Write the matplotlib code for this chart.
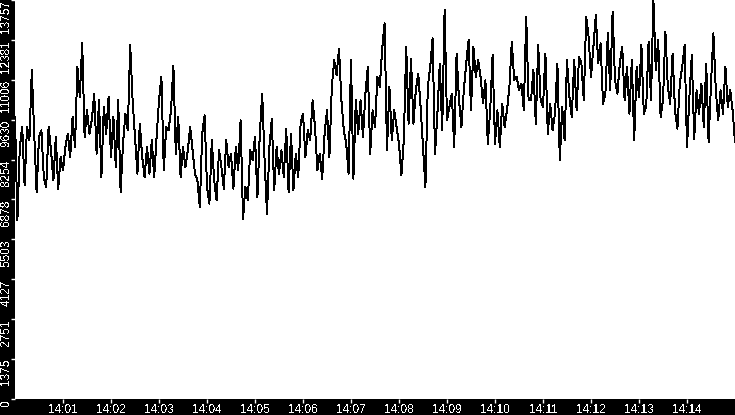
#曲线图复现
import pandas as pd
import matplotlib
matplotlib.use('Agg')
import matplotlib.pyplot as plt

# 采样: 14:00 开始, 每3秒一个点
start_time = '2024-01-01 14:00:00'
step = '3s'

# 各段读数 (每段约1分17秒)
part1 = [9725, 6154, 8688, 9379, 7363, 9379, 8919, 11338, 9149, 7133, 9034, 9264, 7651, 7306, 9379,
         8573, 7536, 9034, 7248, 8343, 7882, 8688, 9149, 8343, 9725, 8688, 11453, 10416, 12260, 9034,
         9955, 9149, 9610, 10531, 8458, 10301, 7651, 10071, 9149, 10416, 8343, 9725, 7997]
part2 = [10301, 7133, 8803, 9840, 9264, 12202, 10301, 9034, 7767, 9495, 8343, 7651, 8688, 7767, 8919,
         7651, 9034, 10301, 11107, 7882, 9379, 9264, 9955, 11476, 8458, 9725, 7651, 8688, 7997, 8573,
         9379, 8573, 7767, 7536, 6615, 9149, 9783, 7306, 6730, 8919, 7536, 6845, 8573]
part3 = [7997, 7248, 8919, 7997, 8458, 7248, 8688, 7882, 9610, 6212, 7306, 6845, 8573, 8227, 9034,
         6960, 9149, 10531, 8227, 6384, 8688, 9667, 7190, 8688, 7767, 8573, 7651, 9322, 7133, 9149,
         7190, 8458, 7651, 9495, 9840, 8343, 9264, 8919, 10301, 9379, 7882, 8458, 7594]
part4 = [9149, 9955, 8343, 10762, 11683, 11165, 12087, 10301, 9264, 8803, 7767, 11683, 7594, 10301, 9149,
         10301, 9034, 10531, 11453, 8458, 9955, 9379, 11107, 10762, 12087, 12951, 8573, 10762, 8919, 9955,
         9379, 8803, 7709, 8919, 12144, 9495, 11741, 9495, 10647, 11223, 10071, 8688, 7306]
part5 = [10762, 11453, 12432, 8458, 9840, 11568, 9264, 13411, 9610, 10071, 10531, 8688, 11914, 10301, 9379,
         10647, 11568, 12375, 9955, 12144, 11107, 11683, 11107, 10186, 10992, 8803, 9955, 11856, 8803, 9955,
         8688, 10186, 9379, 9955, 10762, 12317, 10992, 11107, 10647, 10877, 9955, 13181, 10301]
part6 = [10301, 11338, 9495, 12202, 10301, 10071, 11914, 9149, 10186, 9264, 9840, 11568, 8227, 10071, 8919,
         11683, 10416, 9725, 11683, 9955, 11799, 11568, 10301, 13181, 12490, 11107, 12144, 13239, 11568, 12260,
         10186, 10531, 12605, 10647, 13354, 10992, 10531, 11568, 12144, 10301, 11453, 9840, 11683]
part7 = [8919, 11453, 10416, 12202, 9840, 10071, 12317, 10301, 13757, 11338, 12375, 9725, 10301, 12663, 10762,
         10186, 11914, 9955, 9322, 10877, 11453, 12202, 8688, 10416, 11856, 8976, 10647, 9840, 10877, 9379,
         11568, 8861, 10877, 12605, 10647, 9610, 10647, 9840, 11453, 10071, 10647, 9955, 8861, 10819]

# 坐标轴刻度
y_max = 13757
y_ticks = [0, 1375.7, 2751.4, 4127.1, 5502.8, 6878.5, 8254.2, 9629.9, 11005.6, 12381.3, 13757]
y_labels = ['0', '1375', '2751', '4127', '5503', '6878', '8254', '9630', '11006', '12381', '13757']
x_labels = ['14:01', '14:02', '14:03', '14:04', '14:05', '14:06', '14:07',
            '14:08', '14:09', '14:10', '14:11', '14:12', '14:13', '14:14']

values = part1 + part2 + part3 + part4 + part5 + part6 + part7
times = pd.date_range(start_time, periods=len(values), freq=step)

plt.rcParams['font.family'] = ['Liberation Sans', 'DejaVu Sans']
plt.rcParams['text.antialiased'] = False

fig = plt.figure(figsize=(7.35, 4.15), dpi=100, facecolor='black')
ax = fig.add_axes([15 / 735, 16 / 415, 720 / 735, 399 / 415])
ax.set_facecolor('white')

ax.plot(times, values, color='black', linewidth=0.7, antialiased=False)

t0 = pd.Timestamp(start_time)
ax.set_xlim(t0, t0 + pd.Timedelta(minutes=15))
ax.set_ylim(0, y_max)

ax.set_xticks([pd.Timestamp('2024-01-01 ' + t) for t in x_labels])
ax.set_xticklabels(x_labels)
ax.set_yticks(y_ticks)
ax.set_yticklabels(y_labels, rotation=90, va='top')

for s in ax.spines.values():
    s.set_visible(False)
ax.tick_params(colors='white', length=3, width=1, labelsize=8.5)
ax.tick_params(axis='x', pad=0.3)
ax.tick_params(axis='y', pad=-1)

fig.savefig('out.png', dpi=100, facecolor='black')
